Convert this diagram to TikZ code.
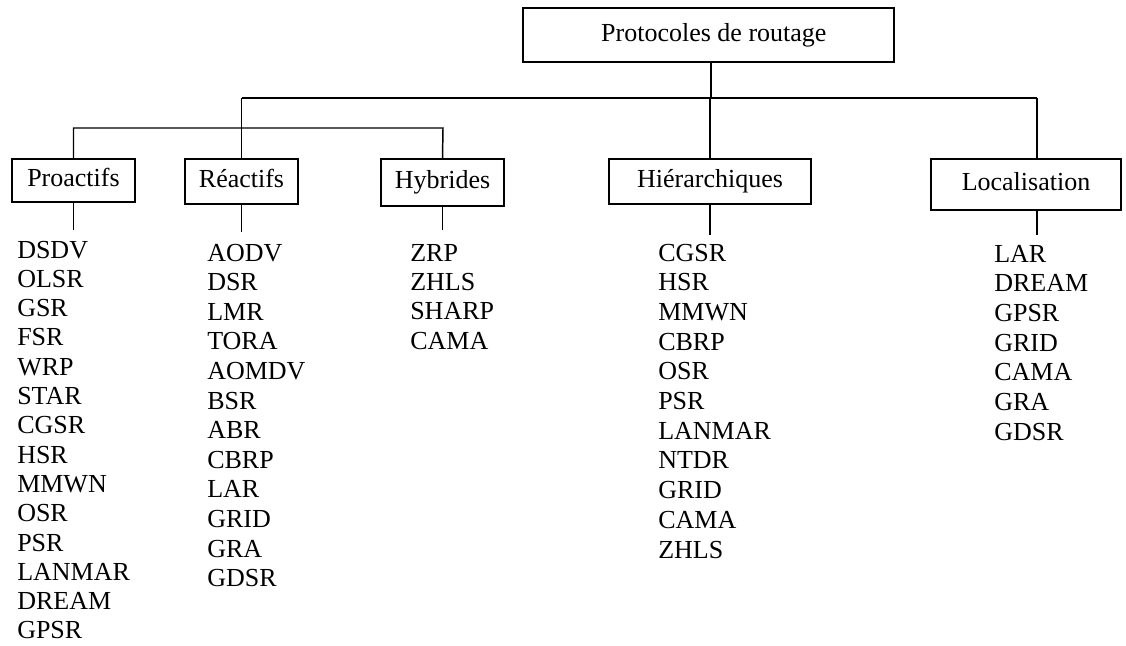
\documentclass[tikz,border=0pt]{standalone}
\usepackage{fontspec}
\setmainfont{Liberation Serif}
\begin{document}
\begin{tikzpicture}[x=0.75pt,y=-0.75pt,
  catbox/.style={draw, line width=1.1pt, inner sep=0pt,
    text height=13pt, text depth=3.5pt,
    font=\fontsize{19.5}{22}\selectfont},
  item/.style={anchor=base west, inner sep=0pt,
    font=\fontsize{19.5}{22}\selectfont},
  link/.style={line width=1.1pt}]
\useasboundingbox (0,0) rectangle (1126,645);

% root and category boxes
\node[catbox, minimum width=278.25pt, minimum height=40.5pt]  (root) at (708.5,35)  {\hspace{8pt}Protocoles de routage};
\node[catbox, minimum width=92.25pt,  minimum height=32.25pt] (pro)  at (73.5,180.5) {Proactifs};
\node[catbox, minimum width=84.75pt,  minimum height=33.75pt] (rea)  at (241.5,181.5) {Réactifs};
\node[catbox, minimum width=92.25pt,  minimum height=35.25pt] (hyb)  at (442.5,182.5) {Hybrides};
\node[catbox, minimum width=151.5pt,  minimum height=33.75pt] (hie)  at (710,181.5) {Hiérarchiques};
\node[catbox, minimum width=142.5pt,  minimum height=38.25pt] (loc)  at (1026,184.5) {Localisation};

% bus lines
\coordinate (busL) at (242,98);
\coordinate (busM) at (711,98);
\coordinate (busR) at (1037,98);
\coordinate (subR) at (443,128);

\draw[link] (root.south -| busM) -- (busM);
\draw[link] (busL) -- (busR);
\draw[link] (rea.north) -- (rea.north |- busL);
\draw[link] (hie.north) -- (hie.north |- busM);
\draw[link] (loc.north -| busR) -- (busR);
\draw[link] (pro.north) |- (subR) -- (hyb.north);

% stems under the boxes
\coordinate (proE) at (73.5,230);
\coordinate (reaE) at (241.5,232);
\coordinate (hybE) at (442.5,230);
\coordinate (hieE) at (710,235);
\coordinate (locE) at (1037,235);
\draw[link] (pro.south) -- (proE);
\draw[link] (rea.south) -- (reaE);
\draw[link] (hyb.south) -- (hybE);
\draw[link] (hie.south) -- (hieE);
\draw[link] (loc.south -| locE) -- (locE);

% protocol lists
\foreach \t [count=\i] in {DSDV,OLSR,GSR,FSR,WRP,STAR,CGSR,HSR,MMWN,OSR,PSR,LANMAR,DREAM,GPSR}
  \node[item] (pro-\i) at (17,{258+29.3*(\i-1)}) {\t};
\foreach \t [count=\i] in {AODV,DSR,LMR,TORA,AOMDV,BSR,ABR,CBRP,LAR,GRID,GRA,GDSR}
  \node[item] (rea-\i) at (207,{261+29.6*(\i-1)}) {\t};
\foreach \t [count=\i] in {ZRP,ZHLS,SHARP,CAMA}
  \node[item] (hyb-\i) at (410,{261+29.4*(\i-1)}) {\t};
\foreach \t [count=\i] in {CGSR,HSR,MMWN,CBRP,OSR,PSR,LANMAR,NTDR,GRID,CAMA,ZHLS}
  \node[item] (hie-\i) at (658,{261+29.7*(\i-1)}) {\t};
\foreach \t [count=\i] in {LAR,DREAM,GPSR,GRID,CAMA,GRA,GDSR}
  \node[item] (loc-\i) at (994,{262+29.7*(\i-1)}) {\t};
\end{tikzpicture}
\end{document}
